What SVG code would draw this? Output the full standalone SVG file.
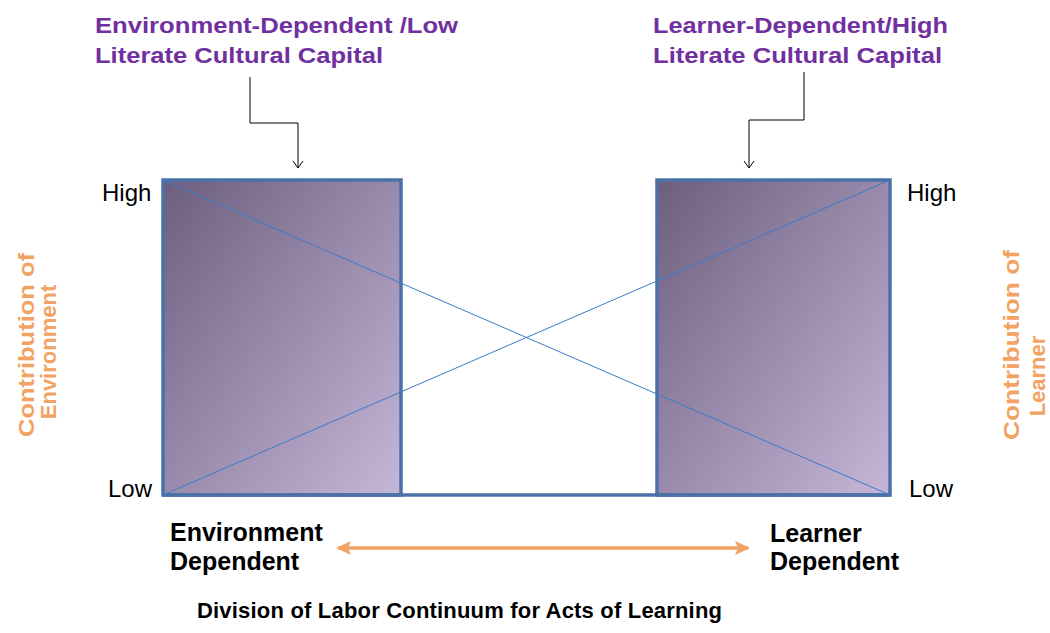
<svg xmlns="http://www.w3.org/2000/svg" width="1050" height="633" viewBox="0 0 1050 633">
<style>
.title{font-family:"Liberation Sans",Arial,sans-serif;font-weight:bold;font-size:22px;fill:#7030A0}
.lbl{font-family:"Liberation Sans",Arial,sans-serif;font-size:24px;fill:#000}
.bl{font-family:"Liberation Sans",Arial,sans-serif;font-weight:bold;font-size:25px;fill:#000}
.cap{font-family:"Liberation Sans",Arial,sans-serif;font-weight:bold;font-size:22px;fill:#000}
.or{font-family:"Liberation Sans",Arial,sans-serif;font-weight:bold;font-size:22px;fill:#F2A262}
.box{fill:url(#g);stroke:#4A72A8;stroke-width:3.5}
.conn{fill:none;stroke:#000;stroke-width:1}
.diag{stroke:#3B7CC4;stroke-width:1}
</style>
<defs>
<linearGradient id="g" x1="0" y1="0" x2="1" y2="1">
<stop offset="0" stop-color="#6C5F7E"/>
<stop offset="1" stop-color="#C6B6D8"/>
</linearGradient>
<marker id="ah" markerWidth="12" markerHeight="12" refX="10" refY="6" orient="auto" markerUnits="userSpaceOnUse" viewBox="0 0 12 12">
<path d="M3,1 L10,6 L3,11" fill="none" stroke="#000" stroke-width="1"/>
</marker>
<marker id="oa" markerWidth="16" markerHeight="14" refX="13" refY="7" orient="auto-start-reverse" markerUnits="userSpaceOnUse" viewBox="0 0 16 14">
<path d="M0,0 L15,7 L0,14 L3,7 Z" fill="#F2A262"/>
</marker>
</defs>
<rect width="1050" height="633" fill="#fff"/>
<g id="left-box"><rect class="box" x="163" y="180" width="238" height="315"/></g>
<g id="right-box"><rect class="box" x="657" y="180" width="233" height="315"/></g>
<g id="baseline"><line x1="163" y1="495" x2="890" y2="495" stroke="#4A72A8" stroke-width="3.5"/></g>
<g id="connectors">
<line class="diag" x1="163" y1="180" x2="890" y2="495"/>
<line class="diag" x1="163" y1="495" x2="890" y2="180"/>
<path class="conn" d="M250,77 V123 H298 V168" marker-end="url(#ah)"/>
<path class="conn" d="M804,72 V120 H749 V168" marker-end="url(#ah)"/>
<line x1="338" y1="548" x2="748" y2="548" stroke="#F2A262" stroke-width="3.5" marker-start="url(#oa)" marker-end="url(#oa)"/>
</g>
<g id="title-left"><text class="title" x="95" y="33" textLength="363" lengthAdjust="spacingAndGlyphs">Environment-Dependent /Low</text><text class="title" x="95" y="63" textLength="288" lengthAdjust="spacingAndGlyphs">Literate Cultural Capital</text></g>
<g id="title-right"><text class="title" x="653" y="33" textLength="295" lengthAdjust="spacingAndGlyphs">Learner-Dependent/High</text><text class="title" x="653" y="63" textLength="289" lengthAdjust="spacingAndGlyphs">Literate Cultural Capital</text></g>
<g id="axis-labels">
<text class="lbl" x="102" y="201">High</text>
<text class="lbl" x="108" y="497">Low</text>
<text class="lbl" x="907" y="201">High</text>
<text class="lbl" x="909" y="497">Low</text>
</g>
<g id="y-left"><text class="or" transform="translate(34,345) rotate(-90)" text-anchor="middle" textLength="184" lengthAdjust="spacingAndGlyphs">Contribution of</text><text class="or" transform="translate(56,352) rotate(-90)" text-anchor="middle">Environment</text></g>
<g id="y-right"><text class="or" transform="translate(1019,345) rotate(-90)" text-anchor="middle" textLength="190" lengthAdjust="spacingAndGlyphs">Contribution of</text><text class="or" transform="translate(1045,376) rotate(-90)" text-anchor="middle">Learner</text></g>
<g id="x-left"><text class="bl" x="170" y="541">Environment</text><text class="bl" x="170" y="570">Dependent</text></g>
<g id="x-right"><text class="bl" x="770" y="542">Learner</text><text class="bl" x="770" y="570">Dependent</text></g>
<g id="caption"><text class="cap" x="197" y="618" textLength="525">Division of Labor Continuum for Acts of Learning</text></g>
</svg>
